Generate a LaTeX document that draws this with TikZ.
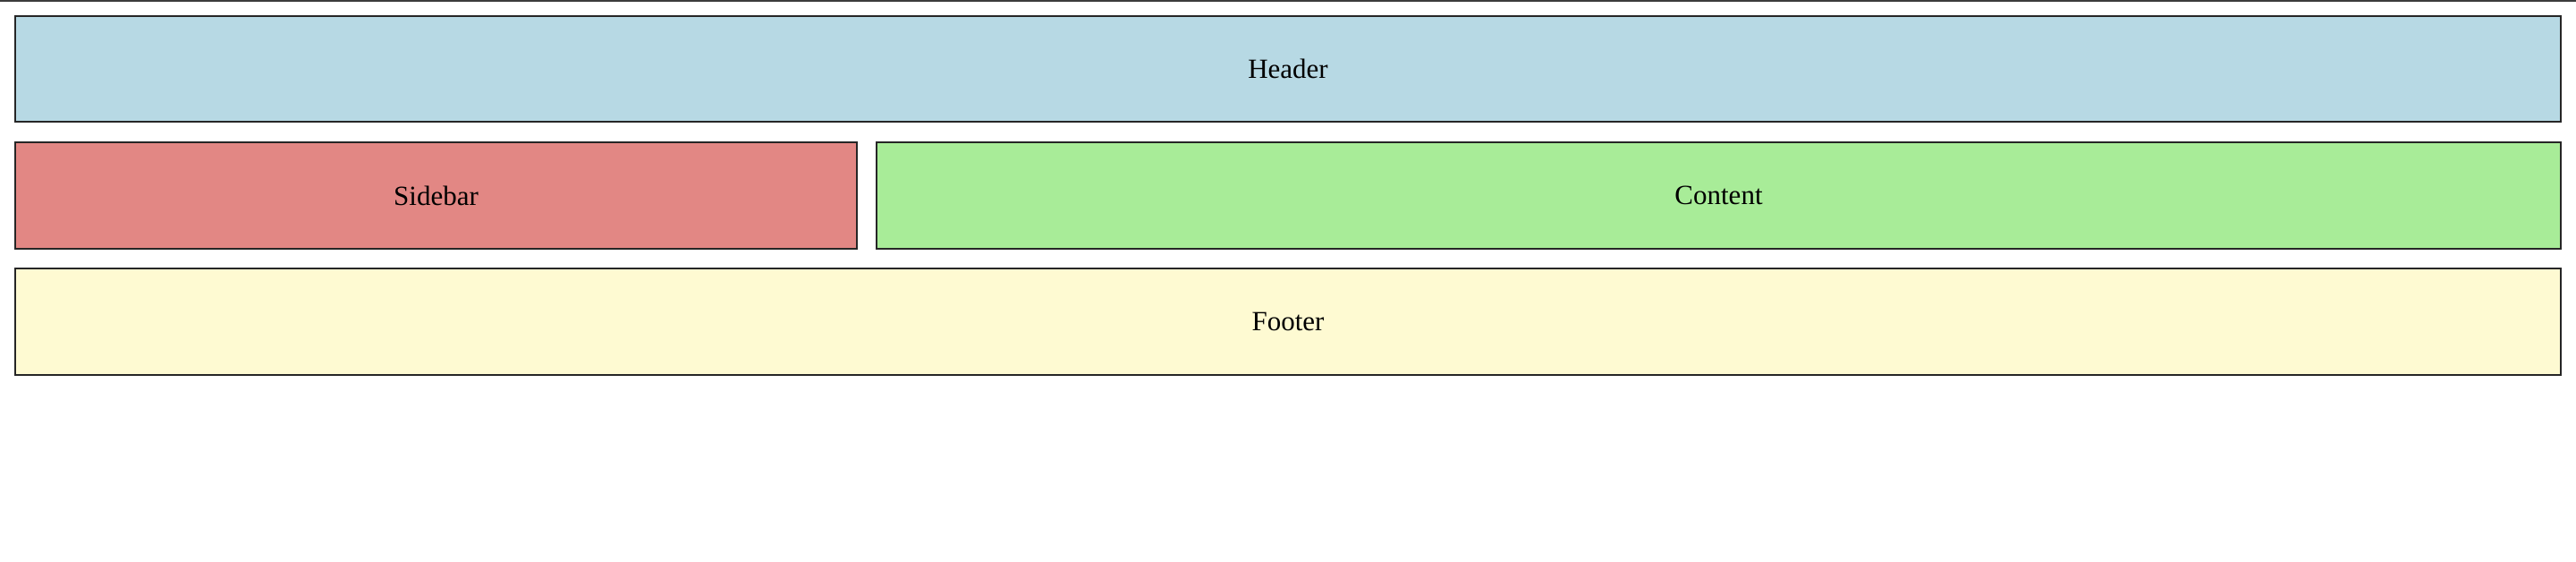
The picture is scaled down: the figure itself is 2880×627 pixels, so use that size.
\documentclass[tikz,border=0pt]{standalone}
\usepackage{fontspec}
\setmainfont{Liberation Serif}
\definecolor{hdr}{RGB}{183,217,228}
\definecolor{sdb}{RGB}{226,135,132}
\definecolor{cnt}{RGB}{168,236,152}
\definecolor{ftr}{RGB}{254,250,210}
\definecolor{edge}{RGB}{38,38,38}
\begin{document}
\begin{tikzpicture}[x=0.5pt,y=-0.5pt,
  panel/.style={draw=edge,line width=1pt,inner sep=0pt,
    font=\fontsize{15.5pt}{18pt}\selectfont,text=black}]
\useasboundingbox (0,0) rectangle (2880,627);
\fill[white] (0,0) rectangle (2880,627);
\fill[edge!90] (0,0) rectangle (2880,1.5);
\node[panel,fill=hdr,minimum width=1423pt,minimum height=59pt] (header) at (1440,77) {Header};
\node[panel,fill=sdb,minimum width=470.5pt,minimum height=59.5pt] (sidebar) at (487.5,218.5) {Sidebar};
\node[panel,fill=cnt,minimum width=941.5pt,minimum height=59.5pt] (content) at (1921.5,218.5) {Content};
\node[panel,fill=ftr,minimum width=1423pt,minimum height=59.5pt] (footer) at (1440,359.5) {Footer};
\end{tikzpicture}
\end{document}
